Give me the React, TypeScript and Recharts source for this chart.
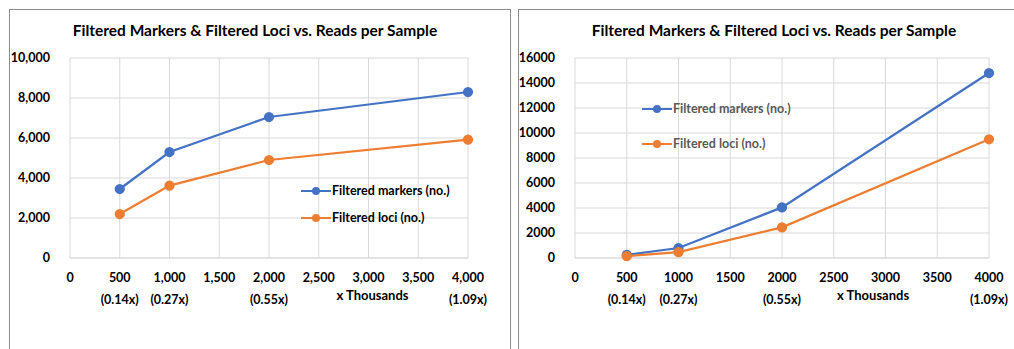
import { LineChart, Line, XAxis, YAxis, CartesianGrid, Label } from 'recharts';

const readsK = [500, 1000, 2000, 4000];
const coverage = ['(0.14x)', '(0.27x)', '(0.55x)', '(1.09x)'];
const xTicks = [0, 500, 1000, 1500, 2000, 2500, 3000, 3500, 4000];

// left panel: filtered counts at each read depth
const markersA = [3450, 5300, 7050, 8300];
const lociA = [2200, 3620, 4900, 5920];
const yTicksA = [0, 2000, 4000, 6000, 8000, 10000];

// right panel
const markersB = [250, 800, 4050, 14800];
const lociB = [150, 470, 2450, 9500];
const yTicksB = [0, 2000, 4000, 6000, 8000, 10000, 12000, 14000, 16000];

const BLUE = '#4472C4';
const ORANGE = '#ED7D31';
const FONT = 'Lato, "Open Sans", sans-serif';
const TITLE = 'Filtered Markers & Filtered Loci vs. Reads per Sample';

const SERIES = [
  { key: 'markers', name: 'Filtered markers (no.)', color: BLUE },
  { key: 'loci', name: 'Filtered loci (no.)', color: ORANGE },
];

const build = (markers: number[], loci: number[]) =>
  readsK.map((r, i) => ({ reads: r, markers: markers[i], loci: loci[i] }));

const fmtComma = (v: number) => v.toLocaleString('en-US');
const fmtPlain = (v: number) => String(v);

function XTick(props: any) {
  const { x, y, payload, fmt } = props;
  const idx = readsK.indexOf(payload.value);
  return (
    <g>
      <text x={x} y={y + 16} textAnchor="middle" fontSize={12.5} fontWeight={700} fill="#000" fontFamily={FONT}>
        {fmt(payload.value)}
      </text>
      {idx >= 0 && (
        <text x={x} y={y + 38} textAnchor="middle" fontSize={12.5} fontWeight={700} fill="#000" fontFamily={FONT}>
          {coverage[idx]}
        </text>
      )}
    </g>
  );
}

// Excel-style legend: short line with a marker, label to the right
function LegendBox({ left, top, gap, color }: { left: number; top: number; gap: number; color: string }) {
  return (
    <div style={{ position: 'absolute', left, top, fontFamily: FONT, fontSize: 12.5, fontWeight: 700, color }}>
      {SERIES.map((s) => (
        <div key={s.key} style={{ display: 'flex', alignItems: 'center', height: gap }}>
          <svg width={30} height={10} style={{ marginRight: 1 }}>
            <line x1={0} y1={5} x2={30} y2={5} stroke={s.color} strokeWidth={2} />
            <circle cx={15} cy={5} r={4} fill={s.color} />
          </svg>
          <span>{s.name}</span>
        </div>
      ))}
    </div>
  );
}

interface PanelProps {
  left: number;
  width: number;
  markers: number[];
  loci: number[];
  yTicks: number[];
  fmt: (v: number) => string;
  yWidth: number;
  rightMargin: number;
  legendPos: { left: number; top: number; gap: number };
  legendColor: string;
  unitFrac: number;
  titleShift: number;
}

function Panel(p: PanelProps) {
  const data = build(p.markers, p.loci);
  const yMax = p.yTicks[p.yTicks.length - 1];
  return (
    <div style={{ position: 'absolute', left: p.left, top: 0, width: p.width, height: 349 }}>
      <div
        style={{
          position: 'absolute',
          left: 0,
          top: 21,
          width: p.width,
          textAlign: 'center',
          fontFamily: FONT,
          fontSize: 15.5,
          fontWeight: 700,
          color: '#000',
          transform: `translateX(${p.titleShift}px)`,
        }}
      >
        {TITLE}
      </div>
      <LineChart
        width={p.width}
        height={349}
        data={data}
        margin={{ top: 58, right: p.rightMargin, bottom: 51, left: 0 }}
      >
        <CartesianGrid stroke="#d9d9d9" strokeWidth={1} />
        <XAxis
          dataKey="reads"
          type="number"
          domain={[0, 4000]}
          ticks={xTicks}
          interval={0}
          height={40}
          axisLine={{ stroke: '#d9d9d9' }}
          tickLine={false}
          tick={<XTick fmt={p.fmt} />}
        >
          <Label
            content={(lp: any) => {
              const vb = lp.viewBox;
              return (
                <text
                  x={vb.x + vb.width * p.unitFrac}
                  y={vb.y + 42}
                  textAnchor="middle"
                  fontSize={13}
                  fontWeight={700}
                  fill="#000"
                  fontFamily={FONT}
                >
                  x Thousands
                </text>
              );
            }}
          />
        </XAxis>
        <YAxis
          type="number"
          domain={[0, yMax]}
          ticks={p.yTicks}
          interval={0}
          width={p.yWidth}
          axisLine={false}
          tickLine={false}
          tickFormatter={p.fmt}
          tick={{ fontSize: 12.5, fontWeight: 700, fill: '#000', fontFamily: FONT }}
          tickMargin={14}
        />
        {SERIES.map((s) => (
          <Line
            key={s.key}
            dataKey={s.key}
            name={s.name}
            stroke={s.color}
            strokeWidth={2.25}
            dot={{ r: 4, fill: s.color, stroke: s.color }}
            isAnimationActive={false}
          />
        ))}
      </LineChart>
      <LegendBox left={p.legendPos.left} top={p.legendPos.top} gap={p.legendPos.gap} color={p.legendColor} />
    </div>
  );
}

export default function App() {
  return (
    <div style={{ position: 'absolute', left: 0, top: 0, width: 1014, height: 349, background: '#fff', overflow: 'hidden' }}>
      <div style={{ position: 'absolute', left: 9, top: 9, width: 502, height: 360, border: '1px solid #8c8c8c', boxSizing: 'border-box' }} />
      <div style={{ position: 'absolute', left: 518, top: 9, width: 520, height: 360, border: '1px solid #8c8c8c', boxSizing: 'border-box' }} />
      <Panel
        left={0}
        width={510}
        markers={markersA}
        loci={lociA}
        yTicks={yTicksA}
        fmt={fmtComma}
        yWidth={70}
        rightMargin={42}
        legendPos={{ left: 301, top: 177, gap: 27 }}
        legendColor="#000"
        unitFrac={0.76}
        titleShift={0}
      />
      <Panel
        left={518}
        width={496}
        markers={markersB}
        loci={lociB}
        yTicks={yTicksB}
        fmt={fmtPlain}
        yWidth={57}
        rightMargin={25}
        legendPos={{ left: 124, top: 91, gap: 35 }}
        legendColor="#595959"
        unitFrac={0.72}
        titleShift={8}
      />
    </div>
  );
}
